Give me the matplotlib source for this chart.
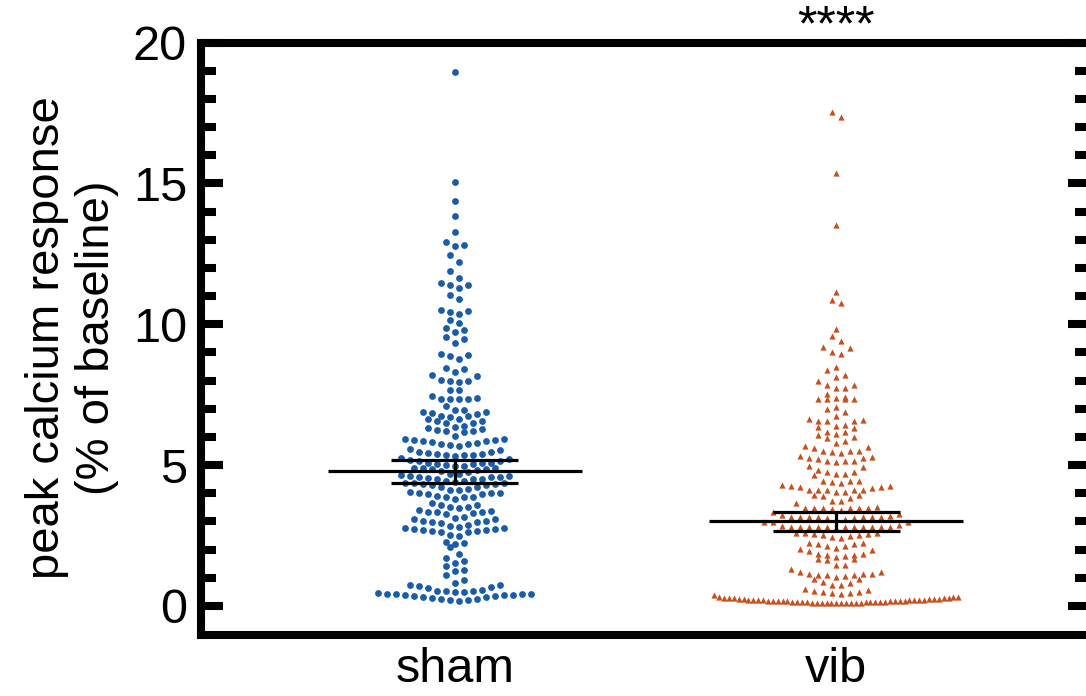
import numpy as np
import matplotlib
matplotlib.use('Agg')
import matplotlib.pyplot as plt

plt.rcParams['font.family'] = ['Liberation Sans', 'DejaVu Sans']

groups = ['sham', 'vib']

sham = [18.95, 15.04, 14.39, 13.85, 13.29, 12.93, 12.83, 12.76, 12.47, 12.22,
        11.88, 11.65, 11.45, 11.40, 11.38, 11.30, 11.05, 10.91, 10.49, 10.47,
        10.45, 10.35, 10.16, 10.05, 9.85, 9.80, 9.71, 9.53, 9.47, 9.32,
        8.94, 8.92, 8.89, 8.75, 8.45, 8.42, 8.29, 8.20, 8.16, 8.02,
        7.99, 7.97, 7.95, 7.68, 7.65, 7.44, 7.38, 7.36, 7.35, 7.34, 7.33, 7.10,
        6.95, 6.94, 6.90, 6.89, 6.86, 6.81, 6.74, 6.74, 6.69, 6.65, 6.62, 6.56,
        6.55, 6.48, 6.48, 6.38, 6.35, 6.32, 6.28, 6.23, 6.22, 6.21, 6.17, 6.04,
        5.93, 5.93, 5.89, 5.89, 5.87, 5.86, 5.82, 5.79, 5.75, 5.74, 5.72, 5.69,
        5.57, 5.54, 5.47, 5.45, 5.42, 5.39, 5.39, 5.37, 5.36, 5.36, 5.33,
        5.25, 5.23, 5.19, 5.14, 5.14, 5.09, 5.07, 5.07, 5.04, 5.03, 5.00, 4.97, 4.97,
        4.91, 4.91, 4.88, 4.86, 4.86, 4.81, 4.80, 4.74, 4.69, 4.68, 4.66, 4.62,
        4.62, 4.58, 4.58, 4.58, 4.55, 4.52, 4.52, 4.51, 4.43, 4.42, 4.39, 4.38,
        4.36, 4.36, 4.32, 4.32, 4.30, 4.29,
        4.23, 4.23, 4.15, 4.12, 4.10, 4.06, 4.02, 4.02, 4.00, 3.97, 3.96, 3.92,
        3.88, 3.88, 3.88, 3.81, 3.67, 3.60,
        3.58, 3.52, 3.51, 3.48, 3.42, 3.37, 3.34, 3.34, 3.34, 3.31, 3.27,
        3.15, 3.14, 3.09, 3.07, 3.03, 3.01, 2.99, 2.97, 2.96, 2.87,
        2.83, 2.81, 2.78, 2.78, 2.75, 2.72, 2.70, 2.69, 2.67, 2.66, 2.64, 2.62,
        2.51, 2.50, 2.27, 2.24, 2.20, 2.09,
        1.84, 1.72, 1.60, 1.53, 1.42, 1.27, 1.24, 1.11, 0.91,
        0.83, 0.74, 0.74, 0.70, 0.69, 0.65, 0.57, 0.53, 0.53, 0.53, 0.51,
        0.49, 0.46, 0.44, 0.43, 0.43, 0.42, 0.39, 0.38, 0.38, 0.36, 0.34,
        0.31, 0.31, 0.28, 0.25, 0.25, 0.21, 0.21, 0.18]

vib = [17.55, 17.37, 15.38, 13.51, 11.13, 10.85, 10.76, 9.82, 9.60, 9.41,
       9.18, 9.15, 9.01, 8.94, 8.48, 8.36, 8.20, 8.12, 8.00, 7.86,
       7.83, 7.75, 7.74, 7.51, 7.42, 7.39, 7.36, 7.35, 7.34, 7.33,
       7.08, 7.00, 6.87, 6.75, 6.63, 6.61, 6.57, 6.56, 6.55, 6.41,
       6.40, 6.36, 6.33, 6.19, 6.16, 6.10, 6.06, 6.01, 5.96, 5.84,
       5.80, 5.68, 5.66, 5.62, 5.51, 5.50, 5.49, 5.47, 5.44, 5.34,
       5.29, 5.27, 5.26, 5.23, 5.16, 5.16, 5.13, 5.10, 4.97, 4.95,
       4.81, 4.75, 4.75, 4.70, 4.69, 4.64, 4.44, 4.44, 4.42, 4.39,
       4.37, 4.30, 4.26, 4.26, 4.24, 4.24, 4.20, 4.13, 4.13, 4.13, 4.13, 4.11, 4.06, 4.04,
       3.95, 3.94, 3.90, 3.83, 3.71, 3.71, 3.66,
       3.52, 3.49, 3.48, 3.48, 3.48, 3.47, 3.46, 3.44, 3.39, 3.35,
       3.28, 3.23, 3.20, 3.17, 3.17, 3.17, 3.17, 3.17, 3.17, 3.15, 3.12, 3.12, 3.09, 3.07,
       2.97, 2.97, 2.97, 2.87, 2.83, 2.82, 2.82, 2.82, 2.82, 2.82, 2.82, 2.82,
       2.82, 2.82, 2.82, 2.79, 2.77,
       2.60, 2.58, 2.58, 2.56, 2.55, 2.51, 2.51, 2.49, 2.46, 2.43,
       2.25, 2.24, 2.21, 2.19, 2.14, 2.12, 2.07, 2.01, 1.99,
       1.94, 1.86, 1.85, 1.81, 1.80, 1.77, 1.75, 1.68, 1.68, 1.64,
       1.46, 1.46,
       1.30, 1.20, 1.20, 1.15, 1.15, 1.15, 1.11, 1.11, 1.10, 1.06, 1.04, 0.96, 0.95,
       0.85, 0.81, 0.75, 0.75,
       0.60, 0.57, 0.53, 0.51, 0.49, 0.45, 0.45, 0.44, 0.38,
       0.10, 0.10, 0.11, 0.11, 0.11, 0.11, 0.11, 0.12, 0.12, 0.12,
       0.12, 0.13, 0.13, 0.13, 0.14, 0.14, 0.14, 0.15, 0.15, 0.15,
       0.16, 0.16, 0.17, 0.17, 0.17, 0.18, 0.18, 0.19, 0.19, 0.20,
       0.20, 0.21, 0.21, 0.22, 0.22, 0.23, 0.23, 0.24, 0.24, 0.25,
       0.26, 0.26, 0.27, 0.28, 0.28, 0.29, 0.30, 0.31, 0.32, 0.33]

# mean and error bar ends
means = [4.78, 3.00]
errs = [0.41, 0.34]

colors = ['#1a5ca8', '#c8501e']
markers = ['o', '^']
sizes = [24, 20]

W, H = 1086, 696
fig = plt.figure(figsize=(W / 100, H / 100), dpi=100)
left, right, bottom, top = 201 / W, 1090 / W, 61 / H, 653.5 / H
ax = fig.add_axes([left, bottom, right - left, top - bottom])
xlim = (-0.665, 1.665)
ylim = (-1.03, 20)
ax.set_xlim(xlim)
ax.set_ylim(ylim)

px_x = (right - left) * W / (xlim[1] - xlim[0])
px_y = (top - bottom) * H / (ylim[1] - ylim[0])


def swarm(vals, row_h=8.0, step=9.0, max_half=122.0):
    # prism-like rows: smallest value in the middle, then alternate outwards
    v = np.sort(np.asarray(vals, float))
    off = np.zeros(len(v))
    rows = []
    start = 0
    for i in range(1, len(v) + 1):
        if i == len(v) or (v[i] - v[start]) * px_y >= row_h:
            rows.append((start, i))
            start = i
    for s, e in rows:
        n = e - s
        d = step
        if n > 1 and (n - 1) * d / 2 > max_half:
            d = 2 * max_half / (n - 1)
        for k in range(n):
            if n % 2:
                slot = ((k + 1) // 2) * (1 if k % 2 else -1)
            else:
                slot = (k // 2 + 0.5) * (1 if k % 2 == 0 else -1)
            off[s + k] = slot * d
    return v, off / px_x


for i, vals in enumerate([sham, vib]):
    v, off = swarm(vals)
    ax.scatter(i + off, v, s=sizes[i], marker=markers[i], color=colors[i],
               linewidths=0, zorder=2, clip_on=False)
    m, e = means[i], errs[i]
    ax.hlines(m, i - 0.333, i + 0.333, color='k', lw=2.3, zorder=3)
    ax.hlines([m - e, m + e], i - 0.167, i + 0.167, color='k', lw=2.3, zorder=3)
    ax.vlines(i, m - e, m + e, color='k', lw=2.3, zorder=3)

for sp in ax.spines.values():
    sp.set_linewidth(5.8)
    sp.set_capstyle('projecting')

ax.set_yticks([0, 5, 10, 15, 20])
ax.set_yticks(np.arange(0, 21, 1), minor=True)
ax.tick_params(axis='y', which='major', direction='in', length=16, width=5.8,
               left=True, right=True, labelsize=35, pad=10)
ax.tick_params(axis='y', which='minor', direction='in', length=11, width=5.8,
               left=True, right=True)
ax.set_xticks([0, 1])
ax.set_xticklabels(groups)
ax.tick_params(axis='x', length=0, labelsize=35, pad=9)

fig.text(72 / W, 0.515, 'peak calcium response\n(% of baseline)', rotation=90,
         ha='center', va='center', fontsize=34, multialignment='center')
ax.text(1, 20.08, '****', ha='center', va='baseline', fontsize=36, clip_on=False)

fig.savefig('out.png', dpi=100)
